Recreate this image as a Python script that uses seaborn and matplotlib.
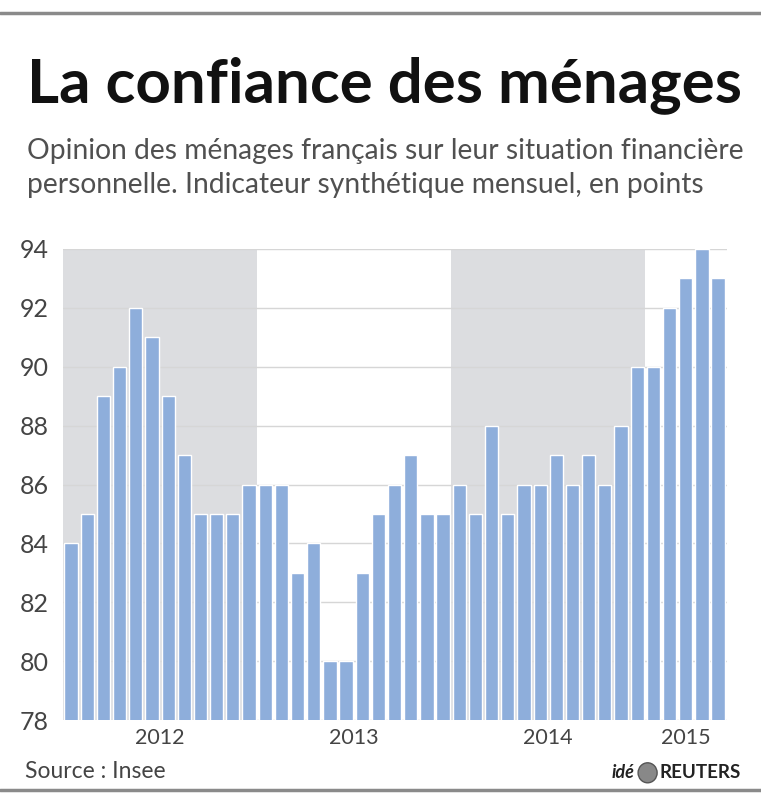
import matplotlib
matplotlib.use('Agg')
import matplotlib.pyplot as plt
import seaborn as sns
import pandas as pd
from matplotlib.patches import Circle
from matplotlib.lines import Line2D

# Monthly indicator, Jan 2012 - May 2015
values_2012 = [84, 85, 89, 90, 92, 91, 89, 87, 85, 85, 85, 86]
values_2013 = [86, 86, 83, 84, 80, 80, 83, 85, 86, 87, 85, 85]
values_2014 = [86, 85, 88, 85, 86, 86, 87, 86, 87, 86, 88, 90]
values_2015 = [90, 92, 93, 94, 93]
years = ['2012', '2013', '2014', '2015']
y_ticks = [78, 80, 82, 84, 86, 88, 90, 92, 94]
shaded_years = ['2012', '2014']

series = [values_2012, values_2013, values_2014, values_2015]
rows = []
for year, vals in zip(years, series):
    for m, v in enumerate(vals):
        rows.append({'year': year, 'month': m + 1, 'value': v})
df = pd.DataFrame(rows)
df['idx'] = range(len(df))

sns.set_theme(style="white")
plt.rcParams['font.family'] = ['Lato', 'DejaVu Sans']

BAR = '#8eaedb'
SHADE = '#dcdde0'
GRID = '#d6d6d6'
TXT = '#444444'

fig = plt.figure(figsize=(7.61, 8.0), dpi=100)
ax = fig.add_axes([0.0828, 0.1, 0.9553 - 0.0828, 0.68875 - 0.1])

# grey background blocks for alternate years
for yr in shaded_years:
    sub = df[df['year'] == yr]
    ax.axvspan(sub['idx'].min() - 0.5, sub['idx'].max() + 0.5, color=SHADE, zorder=0, lw=0)

for t in y_ticks:
    ax.axhline(t, color=GRID, lw=1, zorder=1)

sns.barplot(data=df, x='idx', y='value', color=BAR, saturation=1, width=0.82,
            ax=ax, zorder=2, order=df['idx'].tolist())

ax.set_ylim(78, 94)
ax.set_xlim(-0.5, len(df) - 0.45)
ax.set_yticks(y_ticks)
ax.set_yticklabels([str(t) for t in y_ticks], fontsize=18, color=TXT)
ax.tick_params(axis='y', length=0, pad=10)

centers = [df[df['year'] == yr]['idx'].mean() for yr in years]
ax.set_xticks(centers)
ax.set_xticklabels(years, fontsize=15.5, color=TXT)
ax.tick_params(axis='x', length=0, pad=6)
ax.set_xlabel('')
ax.set_ylabel('')
for s in ax.spines.values():
    s.set_visible(False)

# title block
fig.text(0.036, 0.872, 'La confiance des ménages', fontsize=44.5, fontweight='bold',
         color='#111111', ha='left', va='baseline')
fig.text(0.036, 0.759, 'Opinion des ménages français sur leur situation financière\n'
         'personnelle. Indicateur synthétique mensuel, en points',
         fontsize=20.3, color='#505050', ha='left', va='baseline', linespacing=1.36)

# footer
fig.text(0.033, 0.027, 'Source : Insee', fontsize=16.5, color=TXT, ha='left', va='baseline')
fig.text(0.804, 0.027, 'idé', fontsize=13, fontweight='bold', style='italic',
         color='#222222', ha='left', va='baseline')
fig.add_artist(Circle((0.851, 0.034), 0.0125, transform=fig.transFigure,
                      facecolor='#888888', edgecolor='#555555', lw=1))
fig.text(0.867, 0.027, 'REUTERS', fontsize=13.5, fontweight='bold',
         color='#222222', ha='left', va='baseline')

# rules
fig.add_artist(Line2D([0, 1], [0.984, 0.984], transform=fig.transFigure, color='#8a8a8a', lw=2.5))
fig.add_artist(Line2D([0, 1], [0.013, 0.013], transform=fig.transFigure, color='#8a8a8a', lw=2.5))

fig.savefig('out.png', dpi=100, facecolor='white')
